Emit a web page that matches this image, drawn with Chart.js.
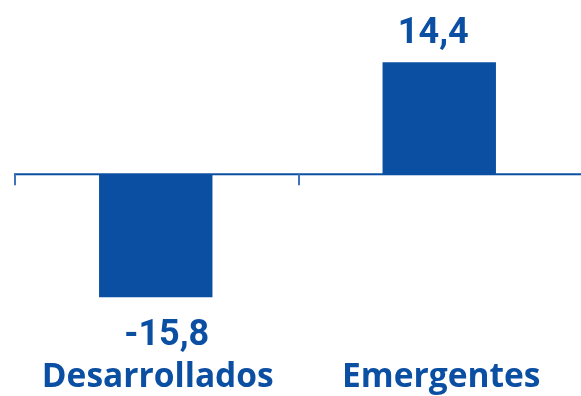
<!DOCTYPE html>
<html>
<head>
<meta charset="utf-8">
<script src="https://cdn.jsdelivr.net/npm/chart.js@4"></script>
<style>
  html, body { margin: 0; padding: 0; background: #fff; }
  #wrap { width: 581px; height: 396px; position: relative; }
</style>
</head>
<body>
<div id="wrap"><canvas id="myChart"></canvas></div>
<script>
const categories = ["Desarrollados", "Emergentes"];
const values = [-15.8, 14.4];
const valueLabels = ["-15,8", "14,4"];

const blue = "#0b4fa3";

// zero line, category ticks and all the text
const labelsPlugin = {
  id: "labelsPlugin",
  afterDatasetsDraw(chart) {
    const ctx = chart.ctx;
    const area = chart.chartArea;
    const y = chart.scales.y;
    const x = chart.scales.x;
    const zero = y.getPixelForValue(0);
    const step = area.width / categories.length;

    ctx.save();
    ctx.fillStyle = blue;
    ctx.fillRect(area.left, zero - 1, area.right - area.left, 2);
    ctx.fillStyle = "#3f74bd";
    for (let i = 0; i < categories.length; i++) {
      const tx = Math.round(area.left + i * step);
      ctx.fillRect(tx, zero, 2, 11);
    }

    ctx.fillStyle = blue;
    ctx.textAlign = "center";
    ctx.textBaseline = "alphabetic";
    const bars = chart.getDatasetMeta(0).data;
    bars.forEach((bar, i) => {
      ctx.font = "bold 36px Roboto";
      if (values[i] >= 0) {
        ctx.fillText(valueLabels[i], bar.x - 6, bar.y - 19);
      } else {
        ctx.fillText(valueLabels[i], bar.x + 11, bar.y + 48);
      }
      ctx.font = "bold 33.5px 'Open Sans'";
      ctx.fillText(categories[i], x.getPixelForValue(i) + 2, 387);
    });
    ctx.restore();
  },
};

new Chart(document.getElementById("myChart"), {
  type: "bar",
  data: {
    labels: categories,
    datasets: [
      {
        data: values,
        backgroundColor: blue,
        borderWidth: 0,
        barPercentage: 0.4,
        categoryPercentage: 1,
      },
    ],
  },
  options: {
    responsive: true,
    maintainAspectRatio: false,
    animation: false,
    layout: { padding: { left: 14, right: 0, top: 0, bottom: 0 } },
    plugins: { legend: { display: false }, tooltip: { enabled: false } },
    scales: {
      x: { display: false },
      y: { display: false, min: -28.5, max: 22.4 },
    },
  },
  plugins: [labelsPlugin],
});
</script>
</body>
</html>
